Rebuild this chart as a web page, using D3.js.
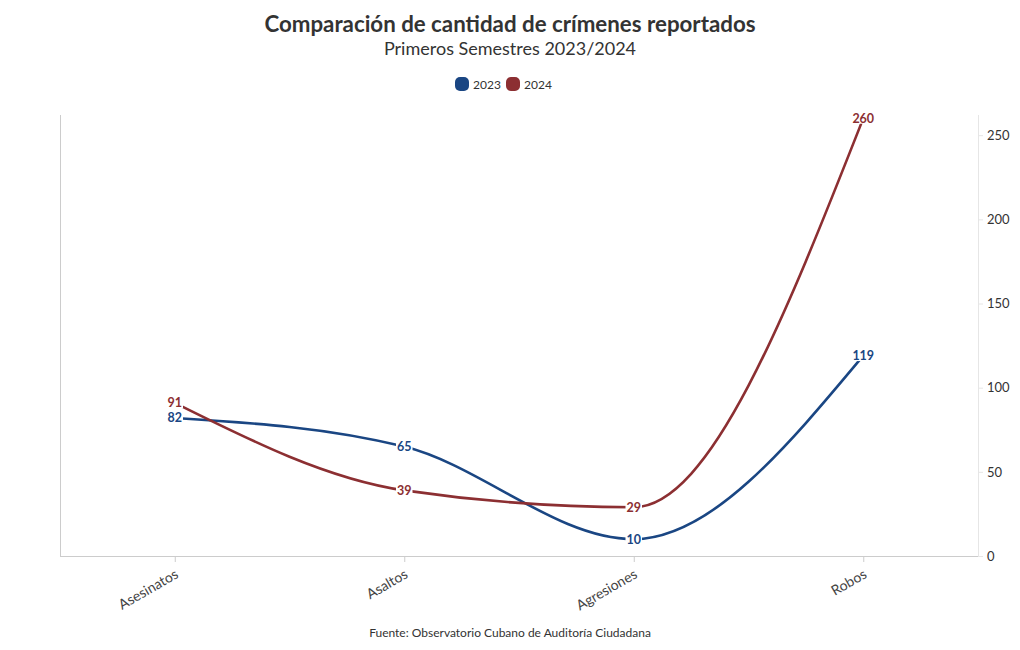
<!DOCTYPE html>
<html><head><meta charset="utf-8">
<script src="https://cdn.jsdelivr.net/npm/d3@7"></script>
<style>
body{margin:0;background:#fff;}
text{font-family:"Source Sans Pro","Lato","Noto Sans",sans-serif;}
</style></head>
<body><svg id="c" width="1020" height="650"></svg>
<script>
const categories = ["Asesinatos","Asaltos","Agresiones","Robos"];
const values2023 = [82,65,10,119];
const values2024 = [91,39,29,260];
const seriesNames = ["2023","2024"];
const colors = ["#1a4683","#8c2f32"];
const yTicks = [0,50,100,150,200,250];

const svg = d3.select("#c");
const m = {l:60, r:978, t:115, b:556};
const x = d3.scalePoint().domain(categories).range([m.l, m.r]).padding(0.5);
const y = d3.scaleLinear().domain([0,262]).range([m.b, m.t]);
const ff = '"Source Sans Pro","Lato","Noto Sans",sans-serif';

// title
svg.append("text").attr("x",510).attr("y",32).attr("text-anchor","middle")
  .style("font-size","22.3px").style("font-weight","700").attr("fill","#333")
  .text("Comparación de cantidad de crímenes reportados");
svg.append("text").attr("x",510).attr("y",55).attr("text-anchor","middle")
  .style("font-size","18px").attr("fill","#333").text("Primeros Semestres 2023/2024");

// legend
const lg = svg.append("g");
const lx = [455, 506];
seriesNames.forEach((s,i)=>{
  lg.append("rect").attr("x",lx[i]).attr("y",77).attr("width",14).attr("height",14).attr("rx",5).attr("fill",colors[i]);
  lg.append("text").attr("x",lx[i]+18).attr("y",89).style("font-size","12px").attr("fill","#333").text(s);
});

// left axis line
svg.append("line").attr("x1",m.l+0.5).attr("x2",m.l+0.5).attr("y1",m.t).attr("y2",m.b).attr("stroke","#ccc");
// right axis
const ra = svg.append("g").attr("transform",`translate(${m.r},0)`)
  .call(d3.axisRight(y).tickValues(yTicks).tickSize(5).tickPadding(4));
ra.select(".domain").attr("stroke","#e6e6e6").attr("d",`M0.5,${m.t}V${m.b}`);
ra.selectAll(".tick line").attr("stroke","#e6e6e6");
ra.selectAll(".tick text").style("font-size","13px").attr("fill","#333").style("font-family",ff);

// bottom axis
const ba = svg.append("g").attr("transform",`translate(0,${m.b})`)
  .call(d3.axisBottom(x).tickSize(6).tickPadding(4));
ba.select(".domain").attr("stroke","#ccc").attr("d",`M${m.l},0.5H${m.r}`);
ba.selectAll(".tick line").attr("stroke","#ccc");
ba.selectAll(".tick text").style("font-size","14px").attr("fill","#444")
  .style("font-family",ff)
  .attr("text-anchor","end").attr("dx","-7px").attr("dy","0.73em")
  .attr("transform","rotate(-30)");

const line = d3.line().x((d,i)=>x(categories[i])).y(d=>y(d)).curve(d3.curveMonotoneX);
const allSeries = [values2023, values2024];
allSeries.forEach((vals,si)=>{
  svg.append("path").attr("d",line(vals)).attr("fill","none").attr("stroke",colors[si]).attr("stroke-width",2.6);
});
allSeries.forEach((vals,si)=>{
  vals.forEach((v,i)=>{
    const g = svg.append("g").attr("transform",`translate(${x(categories[i])},${y(v)})`);
    const t = g.append("text").attr("text-anchor","middle").attr("dy","0.35em")
      .style("font-size","12.5px").style("font-weight","700").attr("fill",colors[si]).text(v);
    const bb = t.node().getBBox();
    g.insert("rect","text").attr("x",bb.x-1).attr("y",bb.y+2).attr("width",bb.width+2).attr("height",bb.height-4).attr("fill","#fff");
  });
});

svg.append("text").attr("x",510).attr("y",637).attr("text-anchor","middle")
  .style("font-size","12px").attr("fill","#333").text("Fuente: Observatorio Cubano de Auditoría Ciudadana");
</script></body></html>
